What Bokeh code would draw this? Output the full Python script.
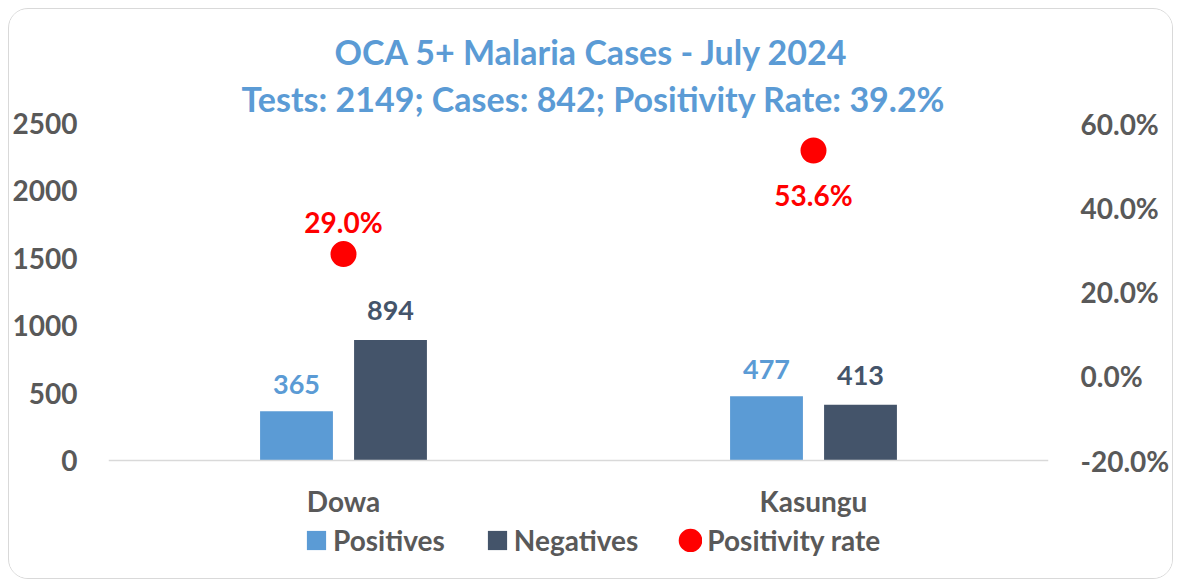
from bokeh.plotting import figure
from bokeh.models import (ColumnDataSource, FactorRange, Range1d, LinearAxis, FixedTicker,
                          NumeralTickFormatter, Legend, LegendItem, Title, Span)
from bokeh.transform import dodge
from bokeh.core.properties import value
from bokeh.embed import file_html
from bokeh.resources import INLINE

# ---- data ----
districts = ["Dowa", "Kasungu"]
positives = [365, 477]
negatives = [894, 413]
positivity = [0.290, 0.536]
title_line1 = "OCA 5+ Malaria Cases - July 2024"
title_line2 = "Tests: 2149; Cases: 842; Positivity Rate: 39.2%"
left_ticks = [0, 500, 1000, 1500, 2000, 2500]
right_ticks = [-0.2, 0.0, 0.2, 0.4, 0.6]
series_names = ["Positives", "Negatives", "Positivity rate"]
y_max, rate_min, rate_max = 2500, -0.2, 0.6

# ---- layout / styles ----
FONT = "Lato"
C_POS = "#5B9BD5"
C_NEG = "#44546A"
C_RATE = "#FF0000"
C_TXT = "#595959"
rate_label_dy = [-32, 45]
W, H = 1165, 571
MB_L, MB_R, MB_T, MB_B = 98, 126, 114, 10
PLOT_PX = 337        # pixels between value 0 and y_max
EXTRA_PX = H - MB_T - MB_B - PLOT_PX   # room under the zero line (category labels + legend)

src = ColumnDataSource(dict(
    d=districts, pos=positives, neg=negatives, rate=positivity,
    pos_lbl=[str(v) for v in positives],
    neg_lbl=[str(v) for v in negatives],
    rate_lbl=[f"{r * 100:.1f}%" for r in positivity],
    rate_dy=rate_label_dy,
))

p = figure(x_range=FactorRange(*districts, range_padding=0),
           y_range=Range1d(-y_max * EXTRA_PX / PLOT_PX, y_max),
           width=W, height=H, title=None,
           output_backend="svg", toolbar_location=None,
           min_border_left=MB_L, min_border_right=MB_R,
           min_border_top=MB_T, min_border_bottom=MB_B)
p.styles = {"border": "1px solid #D9D9D9", "border-radius": "20px", "overflow": "hidden",
            "margin-left": "8px", "margin-top": "8px"}
rspan = rate_max - rate_min
p.extra_y_ranges = {"rate": Range1d(rate_min - rspan * EXTRA_PX / PLOT_PX, rate_max)}
p.xgrid.visible = False
p.ygrid.visible = False
p.outline_line_color = None
p.xaxis.visible = False

p.add_layout(Span(location=0, dimension="width", line_color="#D9D9D9", line_width=1.5))

bw = 0.155
r_pos = p.vbar(x=dodge("d", -0.1, range=p.x_range), top="pos", width=bw, source=src,
               fill_color=C_POS, line_color=None)
r_neg = p.vbar(x=dodge("d", 0.1, range=p.x_range), top="neg", width=bw, source=src,
               fill_color=C_NEG, line_color=None)
r_rate = p.scatter(x="d", y="rate", marker="circle", size=12, line_width=14, source=src,
                   y_range_name="rate", fill_color=C_RATE, line_color=C_RATE)

common = dict(text_align="center", text_baseline="middle", text_font=value(FONT),
              text_font_style="bold", source=src)
p.text(x=dodge("d", -0.1, range=p.x_range), y="pos", text="pos_lbl", y_offset=-27,
       text_font_size="27px", text_color=C_POS, **common)
p.text(x=dodge("d", 0.1, range=p.x_range), y="neg", text="neg_lbl", y_offset=-29,
       text_font_size="27px", text_color=C_NEG, **common)
p.text(x="d", y="rate", text="rate_lbl", y_offset="rate_dy", y_range_name="rate",
       text_font_size="28px", text_color=C_RATE, **common)
# category labels under the zero line
p.text(x="d", y=0, text="d", y_offset=40, text_font_size="28px", text_color=C_TXT, **common)

# axes
def style_axis(ax, size="28px"):
    ax.major_tick_line_color = None
    ax.minor_tick_line_color = None
    ax.major_tick_out = 0
    ax.major_tick_in = 0
    ax.minor_tick_out = 0
    ax.minor_tick_in = 0
    ax.axis_line_color = None
    ax.major_label_text_font = FONT
    ax.major_label_text_font_style = "bold"
    ax.major_label_text_font_size = size
    ax.major_label_text_color = C_TXT

yl = p.yaxis[0]
yl.ticker = FixedTicker(ticks=left_ticks)
yl.major_label_standoff = 31
style_axis(yl)

yr = LinearAxis(y_range_name="rate", ticker=FixedTicker(ticks=right_ticks),
                formatter=NumeralTickFormatter(format="0.0%"))
yr.major_label_standoff = 32
style_axis(yr)
p.add_layout(yr, "right")

# titles (first added sits closest to the plot)
for txt, so, off in [(title_line2, 9, 133), (title_line1, 0, 226)]:
    p.add_layout(Title(text=txt, align="left", offset=off, text_font=FONT,
                       text_font_style="bold", text_font_size="34px", text_color=C_POS,
                       standoff=so),
                 "above")

# legend (inside the frame, under the category labels)
leg = Legend(items=[LegendItem(label=series_names[0], renderers=[r_pos]),
                    LegendItem(label=series_names[1], renderers=[r_neg]),
                    LegendItem(label=series_names[2], renderers=[r_rate])],
             orientation="horizontal", padding=0, margin=0, border_line_color=None,
             background_fill_alpha=0, label_text_font=FONT, label_text_font_style="bold",
             label_text_font_size="28px", label_text_color=C_TXT, label_height=34,
             glyph_width=24, glyph_height=24, label_standoff=5, spacing=40,
             location=(196, 13))
p.add_layout(leg)

open("out.html", "w").write(file_html(p, INLINE))
